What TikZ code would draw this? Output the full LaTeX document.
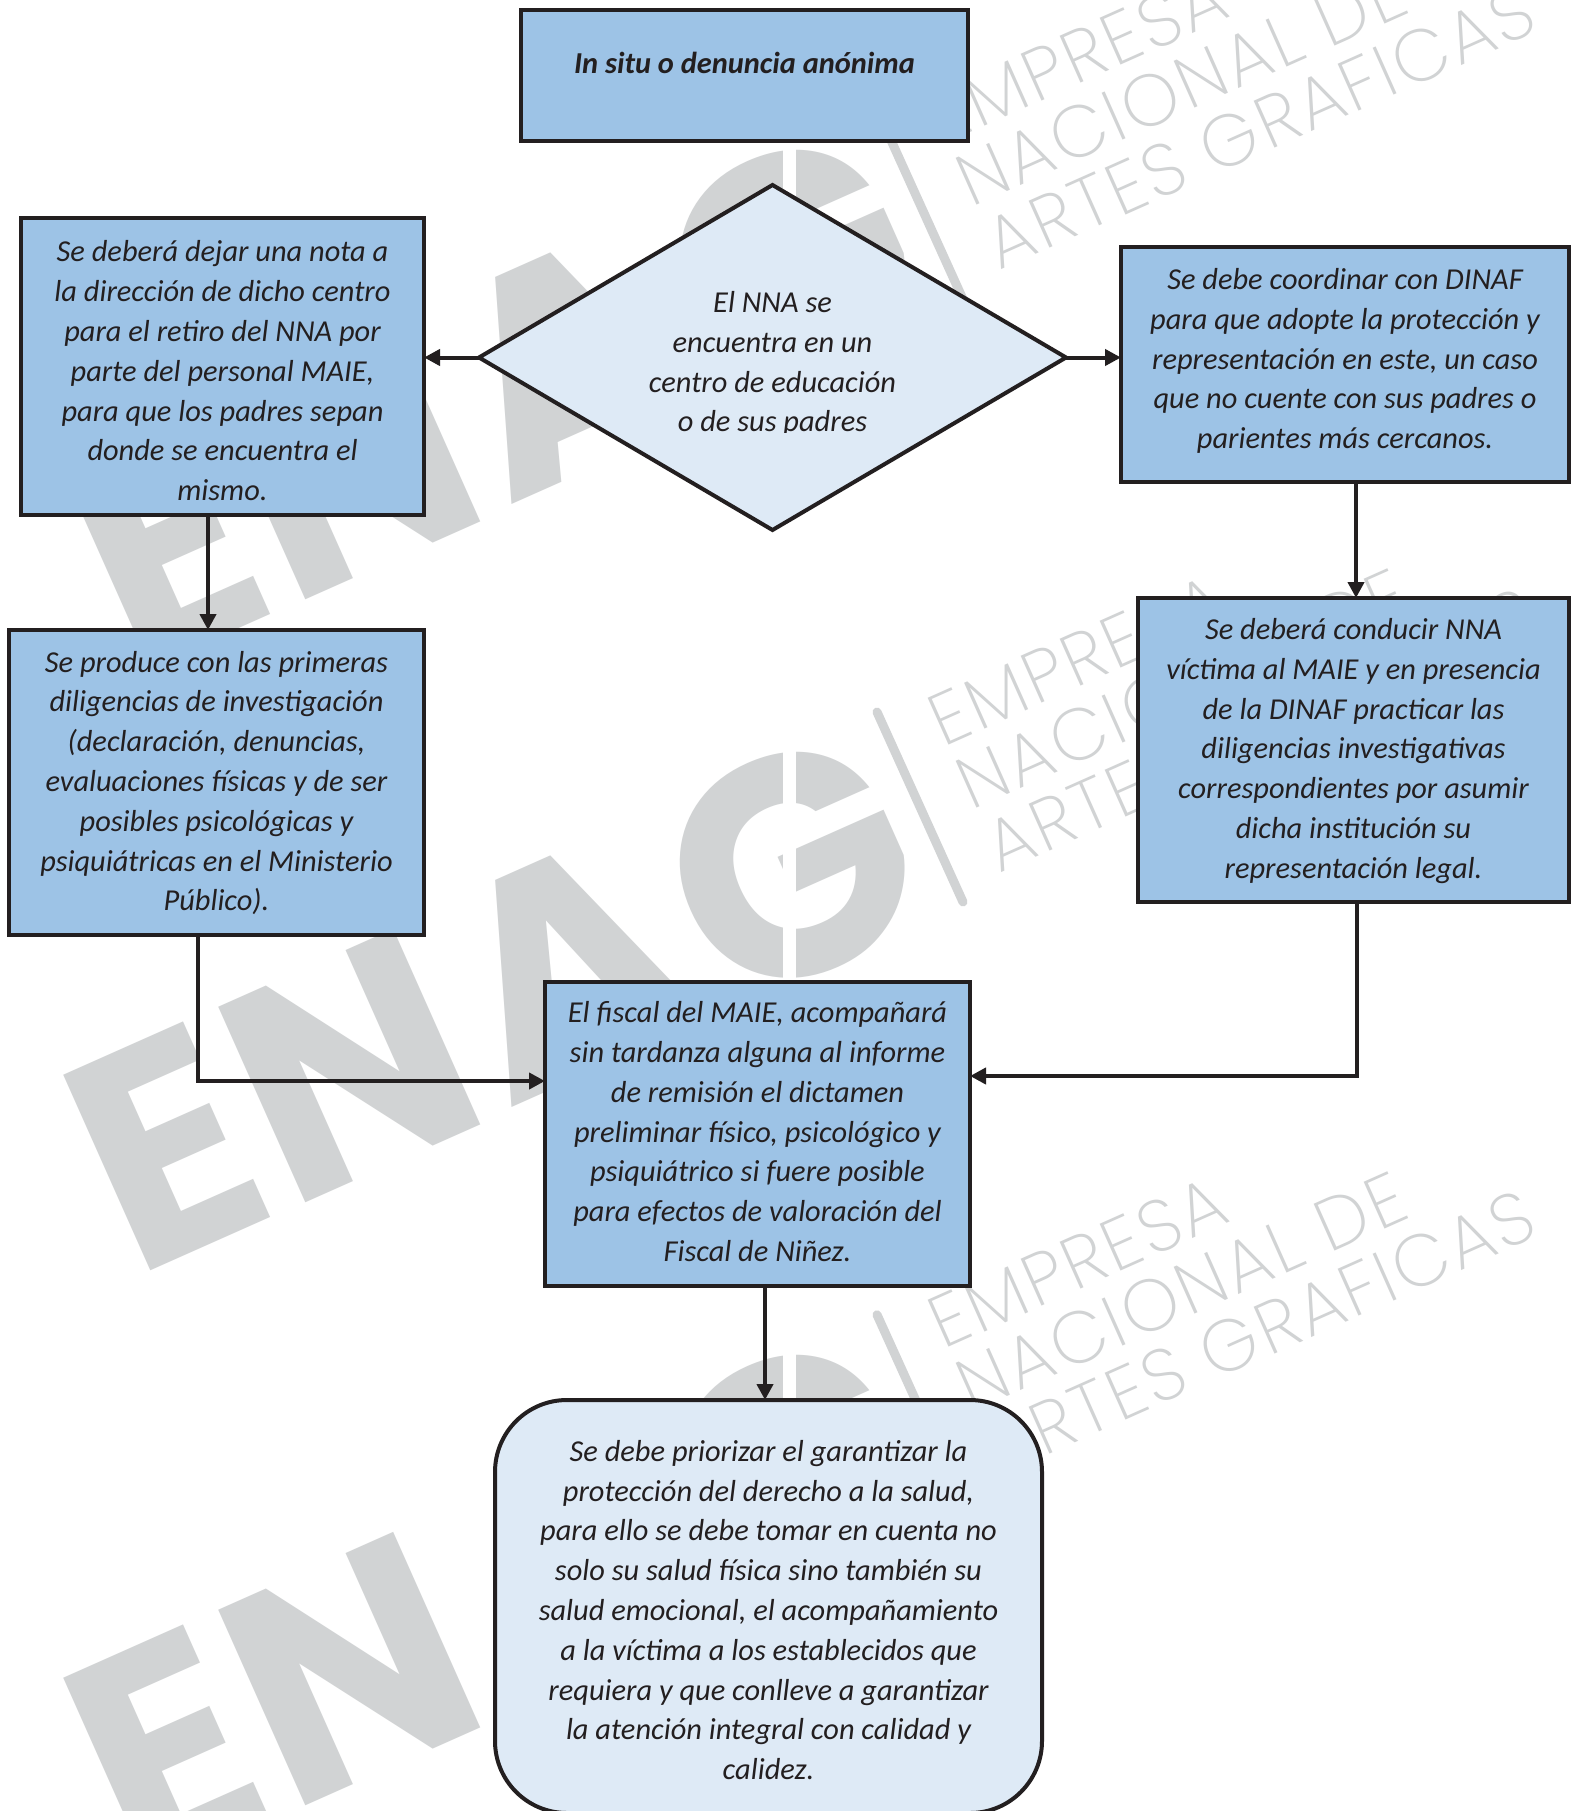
\documentclass[tikz,border=0pt]{standalone}
\usepackage{fontspec}
\usetikzlibrary{shapes.geometric,arrows.meta}
\setmainfont{Carlito}
\newfontfamily\wmbold{Poppins}
\newfontfamily\wmthin{Poppins ExtraLight}[LetterSpace=4]
\definecolor{boxblue}{HTML}{9DC3E6}
\definecolor{paleblue}{HTML}{DEEAF6}
\definecolor{inkc}{HTML}{231F20}
\definecolor{wmc}{HTML}{D1D3D4}
\tikzset{
  base/.style={draw=inkc,line width=4pt,outer sep=0pt,inner sep=0pt,text=inkc,align=center,
     font=\fontsize{30.4}{39.8}\selectfont\itshape},
  bluebox/.style={base,rectangle,fill=boxblue},
  palebox/.style={base,rectangle,rounded corners=72pt,fill=paleblue},
  choice/.style={base,diamond,fill=paleblue},
  flow/.style={draw=inkc,line width=4pt,-{Triangle[length=16pt,width=16pt]}},
  heavy/.style={inner sep=0pt,text=wmc,font=\fontsize{305}{305}\selectfont\wmbold\bfseries,rotate=24},
  thin/.style={inner sep=0pt,text=wmc,align=left,rotate=24,anchor=south west,
     font=\fontsize{73}{69}\selectfont\wmthin},
}
\newcommand{\shiftup}[1]{\rule[-#1pt]{0pt}{#1pt}}
\newcommand{\shiftdown}[1]{\rule{0pt}{#1pt}}
\begin{document}
\begin{tikzpicture}[x=1pt,y=-1pt]
\useasboundingbox (0,0) rectangle (1572,1811);
\fill[white] (0,0) rectangle (1572,1811);
% watermark
\begin{scope}
\clip (0,0) rectangle (1572,1811);
\foreach \dy/\tag in {-602.7/a,0/b,602.7/c}{
  \begin{scope}[yshift=-\dy pt]
    \node[heavy] (e\tag) at (165,1147) {E};
    \node[heavy] (n\tag) at (350,1066) {N};
    \node[heavy] (v\tag) at (567,966) {A};
    \node[heavy,font=\fontsize{312}{312}\selectfont\wmbold\bfseries] (g\tag) at (790,867) {G};
    \fill[white] (783,740) rectangle (796,990);
    \draw[wmc,line width=9pt,line cap=round] (877,712) -- (963,902);
    \node[thin] (t\tag) at (1000,874) {EMPRESA\\NACIONAL DE\\ARTES GRAFICAS};
  \end{scope}
}
\end{scope}
% nodes
\node[bluebox,minimum width=447pt,minimum height=131pt,font=\fontsize{30.4}{39.8}\selectfont\itshape\bfseries] (top) at (744.5,75.5) {In situ o denuncia anónima\shiftup{26}};
\node[choice,minimum width=587pt,minimum height=345pt,shape aspect=1.7] (dec) at (772.5,357.5) {};
\begin{scope}
\clip (600,250) rectangle (950,432);
\node[inner sep=0pt,text=inkc,align=center,font=\fontsize{30.4}{39.8}\selectfont\itshape] (dectext) at (772.5,364) {El NNA se\\encuentra en un\\centro de educación\\o de sus padres};
\end{scope}
\node[bluebox,minimum width=403pt,minimum height=297pt] (la) at (222.5,366.5) {\shiftdown{30}Se deberá dejar una nota a\\la dirección de dicho centro\\para el retiro del NNA por\\parte del personal MAIE,\\para que los padres sepan\\donde se encuentra el\\mismo.};
\node[bluebox,minimum width=415pt,minimum height=305pt] (lb) at (216.5,782.5) {\shiftdown{22}Se produce con las primeras\\diligencias de investigación\\(declaración, denuncias,\\evaluaciones físicas y de ser\\posibles psicológicas y\\psiquiátricas en el Ministerio\\Público).};
\node[bluebox,minimum width=448pt,minimum height=235pt] (ra) at (1345,364.5) {Se debe coordinar con DINAF\\para que adopte la protección y\\representación en este, un caso\\que no cuente con sus padres o\\parientes más cercanos.\shiftup{12}};
\node[bluebox,minimum width=431pt,minimum height=304pt] (rb) at (1353.5,750) {\shiftdown{23}Se deberá conducir NNA\\víctima al MAIE y en presencia\\de la DINAF practicar las\\diligencias investigativas\\correspondientes por asumir\\dicha institución su\\representación legal.};
\node[bluebox,minimum width=425pt,minimum height=304pt] (mid) at (757.5,1134) {El fiscal del MAIE, acompañará\\sin tardanza alguna al informe\\de remisión el dictamen\\preliminar físico, psicológico y\\psiquiátrico si fuere posible\\para efectos de valoración del\\Fiscal de Niñez.\shiftup{5}};
\node[palebox,minimum width=547pt,minimum height=413pt] (end) at (768.5,1606.5) {\shiftdown{28}Se debe priorizar el garantizar la\\protección del derecho a la salud,\\para ello se debe tomar en cuenta no\\solo su salud física sino también su\\salud emocional, el acompañamiento\\a la víctima a los establecidos que\\requiera y que conlleve a garantizar\\la atención integral con calidad y\\calidez.};
% connector guides
\coordinate (xa) at (208,0);
\coordinate (xb) at (197.5,0);
\coordinate (xc) at (1356,0);
\coordinate (xd) at (1357,0);
\coordinate (xe) at (765,0);
\coordinate (ya) at (0,1081);
\coordinate (yb) at (0,1076);
\coordinate (bendl) at (xb |- ya);
\coordinate (bendr) at (xd |- yb);
% connectors
\draw[flow] (dec.west) -- (dec.west -| la.east);
\draw[flow] (dec.east) -- (dec.east -| ra.west);
\draw[flow] (la.south -| xa) -- (lb.north -| xa);
\draw[flow] (ra.south -| xc) -- (rb.north -| xc);
\draw[flow] (lb.south -| xb) -- (bendl) -- (bendl -| mid.west);
\draw[flow] (rb.south -| xd) -- (bendr) -- (bendr -| mid.east);
\draw[flow] (mid.south -| xe) -- (end.north -| xe);
\end{tikzpicture}
\end{document}
